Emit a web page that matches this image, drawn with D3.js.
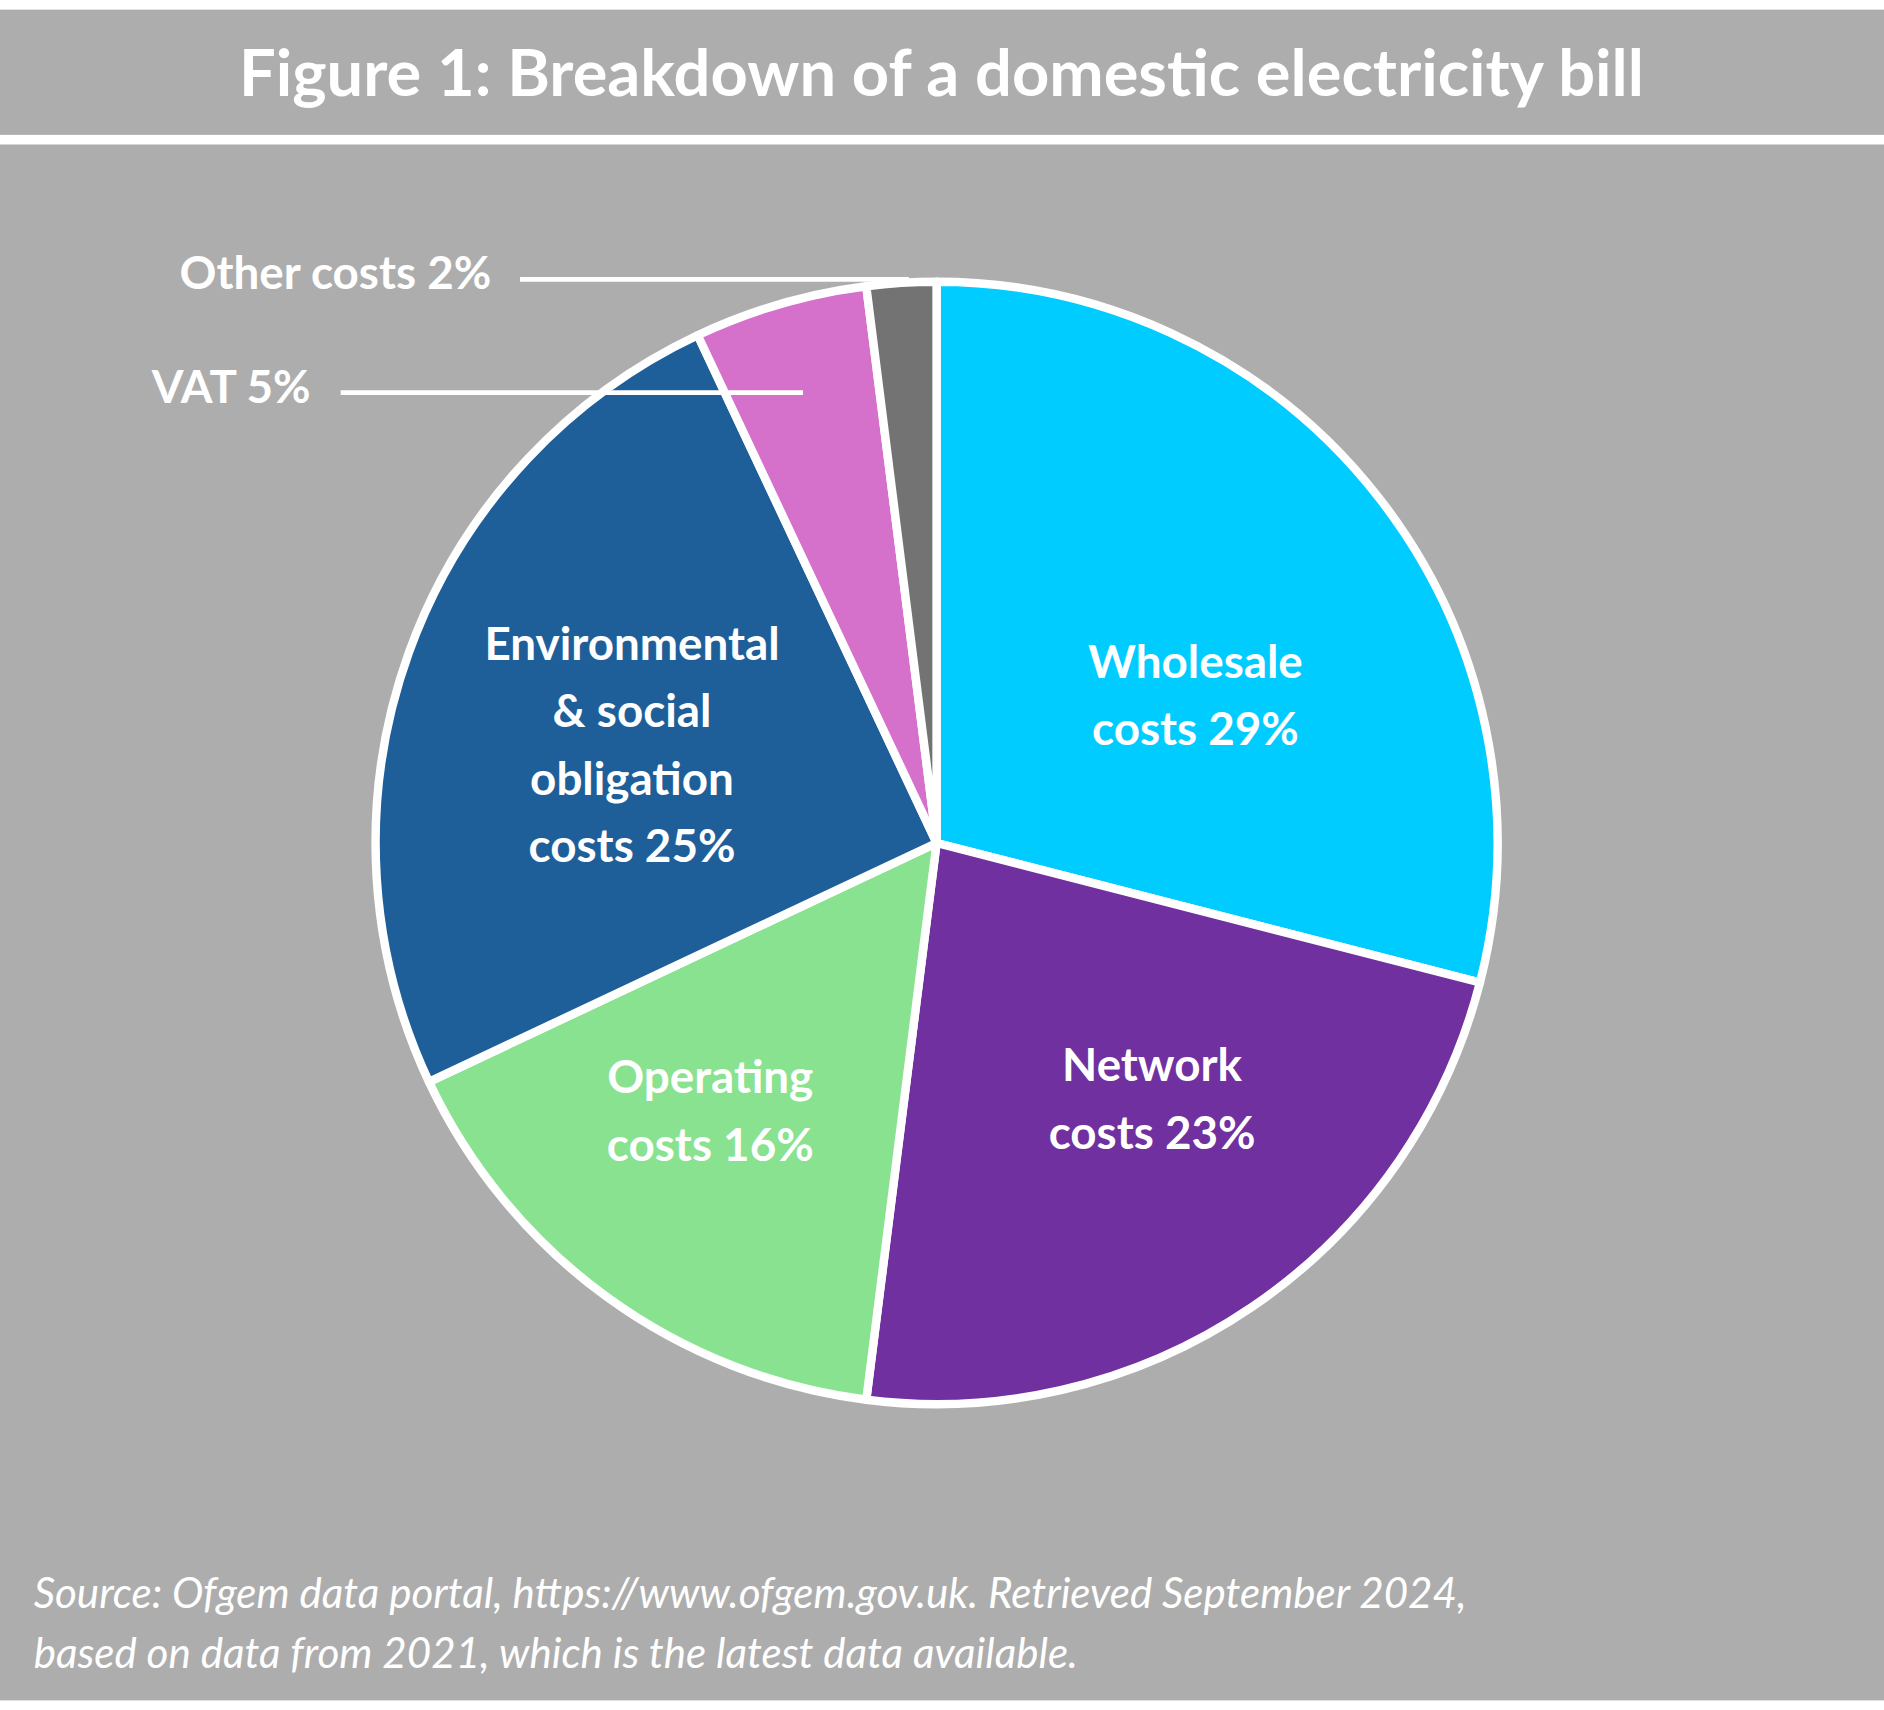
<!DOCTYPE html><html><head><meta charset="utf-8"><script src="https://cdn.jsdelivr.net/npm/d3@7"></script>
<style>body{margin:0;background:#fff}svg{display:block}</style></head><body><svg id="c"></svg>
<script>
const categories=["Wholesale","Network","Operating","Environmental & social obligation","VAT","Other"];
const values=[29,23,16,25,5,2];
const colors=["#00CCFF","#7030A0","#88E290","#1F5F99","#D570CB","#737373"];
const innerLabels=[["Wholesale","costs 29%"],["Network","costs 23%"],["Operating","costs 16%"],["Environmental","& social","obligation","costs 25%"]];
const labelPos=[[993,550],[957,885],[590,895],[525,535]];
const outerLabels=[{t:"Other costs 2%",x:408,y:240,lx1:432,lx2:755,ly:232},{t:"VAT 5%",x:258,y:335,lx1:283,lx2:667,ly:326}];
const svg=d3.select("#c").attr("width",1884).attr("height",1710).attr("viewBox","0 0 1565 1420").attr("preserveAspectRatio","none");
const F="Lato, 'Open Sans', sans-serif";
svg.append("rect").attr("width",1565).attr("height",1420).attr("fill","#fff");
svg.append("rect").attr("y",8).attr("width",1565).attr("height",104).attr("fill","#ADADAD");
svg.append("rect").attr("y",120).attr("width",1565).attr("height",1292).attr("fill","#ADADAD");
svg.append("text").attr("x",782).attr("y",80).attr("text-anchor","middle").attr("fill","#fff").attr("font-family",F).attr("font-weight",700).attr("font-size",54).text("Figure 1: Breakdown of a domestic electricity bill");
const cx=778,cy=700,r=466;
const pie=d3.pie().sort(null).value(d=>d)(values);
const arc=d3.arc().innerRadius(0).outerRadius(r);
const g=svg.append("g").attr("transform",`translate(${cx},${cy})`);
g.selectAll("path").data(pie).join("path").attr("d",arc).attr("fill",(d,i)=>colors[i]).attr("stroke","#fff").attr("stroke-width",7).attr("stroke-linejoin","round");
innerLabels.forEach((ls,i)=>{ls.forEach((l,j)=>svg.append("text").attr("x",labelPos[i][0]).attr("y",labelPos[i][1]+j*56+13).attr("text-anchor","middle").attr("fill","#fff").attr("font-family",F).attr("font-weight",700).attr("font-size",38).text(l));});
outerLabels.forEach(o=>{svg.append("text").attr("x",o.x).attr("y",o.y).attr("text-anchor","end").attr("fill","#fff").attr("font-family",F).attr("font-weight",700).attr("font-size",38).text(o.t);
svg.append("line").attr("x1",o.lx1).attr("x2",o.lx2).attr("y1",o.ly).attr("y2",o.ly).attr("stroke","#fff").attr("stroke-width",4);});
["Source:  Ofgem data portal, https://www.ofgem.gov.uk.  Retrieved September 2024,","based on data from 2021, which is the latest data available."].forEach((t,i)=>svg.append("text").attr("x",28).attr("y",1335+i*50).attr("fill","#fff").attr("font-family",F).attr("font-style","italic").attr("font-size",35).text(t));
</script></body></html>
